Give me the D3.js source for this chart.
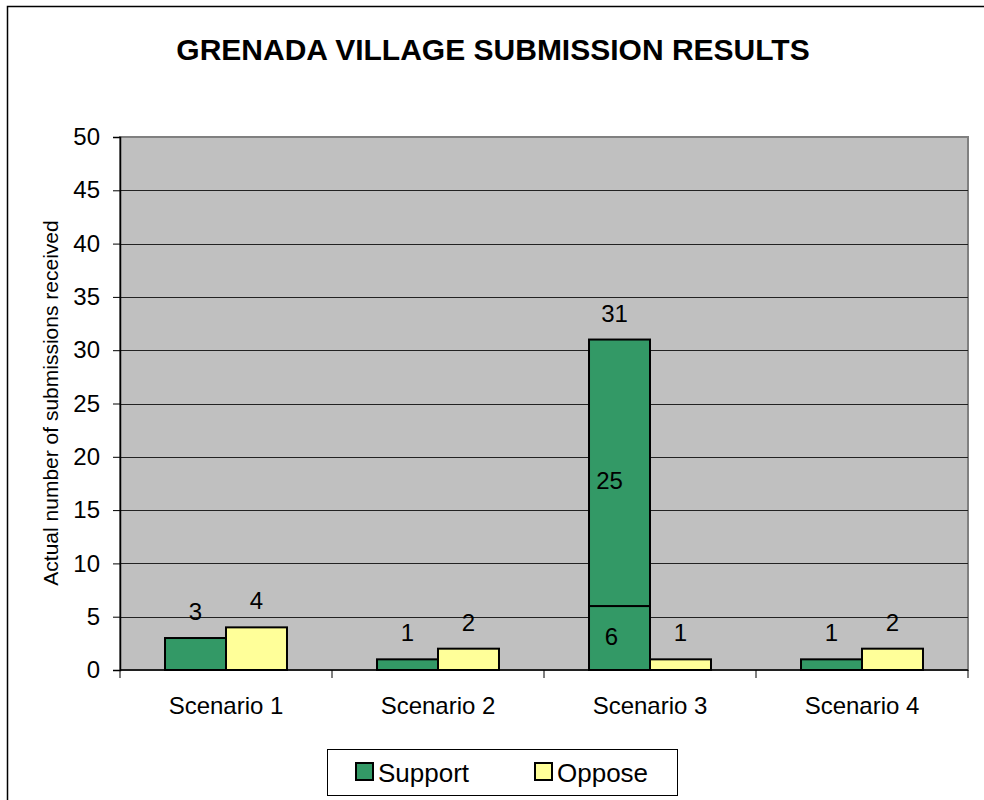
<!DOCTYPE html>
<html>
  <head>
    <title>Grenada Village submission results</title>
    <style>
      body { margin: 0; background: #fff; }
      text { font-family: Arial, "Liberation Sans", sans-serif; fill: #000; }
    </style>
    <script src="https://cdn.jsdelivr.net/npm/d3@7"></script>
  </head>
  <body>
    <div id="chart"></div>
    <script type="text/javascript">
      // data
      var scenarios    = ["Scenario 1", "Scenario 2", "Scenario 3", "Scenario 4"];
      var series       = ["Support", "Oppose"];
      var supportBase  = [3, 1, 6, 1];
      var supportExtra = [0, 0, 25, 0];
      var oppose       = [4, 2, 1, 2];
      var yTicks       = [0, 5, 10, 15, 20, 25, 30, 35, 40, 45, 50];

      var colors = { Support: "#339966", Oppose: "#FFFF99" };

      var width = 984, height = 800;
      var plot = { left: 120, right: 968, top: 137, bottom: 670 };

      var svg = d3.select("#chart").append("svg")
          .attr("width", width)
          .attr("height", height);

      // outer chart frame
      svg.append("rect")
          .attr("x", 7.5).attr("y", 6.5)
          .attr("width", 1000).attr("height", 1000)
          .attr("fill", "none")
          .attr("stroke", "#000")
          .attr("stroke-width", 1.5);

      svg.append("text")
          .attr("x", 493).attr("y", 60)
          .attr("text-anchor", "middle")
          .style("font-size", "30px")
          .style("font-weight", "bold")
          .text("GRENADA VILLAGE SUBMISSION RESULTS");

      var x0 = d3.scaleBand()
          .domain(scenarios)
          .range([plot.left, plot.right])
          .padding(0);

      var x1 = d3.scaleBand()
          .domain(series)
          .range([0, x0.bandwidth()])
          .paddingInner(0)
          .paddingOuter(0.738);

      var y = d3.scaleLinear()
          .domain([0, 50])
          .range([plot.bottom, plot.top]);

      // plot area
      svg.append("rect")
          .attr("x", plot.left).attr("y", plot.top)
          .attr("width", plot.right - plot.left)
          .attr("height", plot.bottom - plot.top)
          .attr("fill", "#C0C0C0")
          .attr("stroke", "#808080")
          .attr("stroke-width", 2);

      // gridlines
      svg.append("g").selectAll("line")
          .data(yTicks.filter(function(t){ return t > 0 && t < 50; }))
          .enter().append("line")
          .attr("x1", plot.left).attr("x2", plot.right)
          .attr("y1", function(d){ return Math.round(y(d)) + 0.5; })
          .attr("y2", function(d){ return Math.round(y(d)) + 0.5; })
          .attr("stroke", "#222")
          .attr("stroke-width", 1);

      // y axis
      var yAxis = svg.append("g")
          .attr("transform", "translate(" + plot.left + ",0)")
          .call(d3.axisLeft(y).tickValues(yTicks).tickSize(7).tickPadding(13));
      yAxis.select(".domain").attr("stroke", "#000").attr("stroke-width", 1.5);
      yAxis.selectAll(".tick line").attr("stroke", "#000");
      yAxis.selectAll(".tick text")
          .style("font-size", "24px")
          .style("font-family", "Arial, 'Liberation Sans', sans-serif")
          .attr("fill", "#000");

      // x axis: ticks at category boundaries
      var xAxisG = svg.append("g");
      xAxisG.append("line")
          .attr("x1", plot.left).attr("x2", plot.right)
          .attr("y1", plot.bottom).attr("y2", plot.bottom)
          .attr("stroke", "#000").attr("stroke-width", 1.5);
      var bounds = scenarios.map(function(s){ return x0(s); }).concat([plot.right]);
      xAxisG.selectAll(".bt")
          .data(bounds)
          .enter().append("line")
          .attr("x1", function(d){ return d; }).attr("x2", function(d){ return d; })
          .attr("y1", plot.bottom).attr("y2", plot.bottom + 8)
          .attr("stroke", "#000");
      xAxisG.selectAll(".cl")
          .data(scenarios)
          .enter().append("text")
          .attr("x", function(d){ return x0(d) + x0.bandwidth() / 2; })
          .attr("y", 714)
          .attr("text-anchor", "middle")
          .style("font-size", "24px")
          .text(function(d){ return d; });

      // bars
      var rows = scenarios.map(function(s, i) {
        return { scenario: s, base: supportBase[i], extra: supportExtra[i], oppose: oppose[i] };
      });

      var groups = svg.append("g").selectAll("g")
          .data(rows)
          .enter().append("g")
          .attr("transform", function(d){ return "translate(" + x0(d.scenario) + ",0)"; });

      function barRect(sel, name, lo, hi) {
        sel.append("rect")
            .attr("x", x1(name))
            .attr("y", function(d){ return y(hi(d)); })
            .attr("width", x1.bandwidth())
            .attr("height", function(d){ return y(lo(d)) - y(hi(d)); })
            .attr("fill", colors[name])
            .attr("stroke", "#000")
            .attr("stroke-width", 2);
      }

      barRect(groups, "Support", function(){ return 0; }, function(d){ return d.base; });
      barRect(groups.filter(function(d){ return d.extra > 0; }), "Support",
              function(d){ return d.base; }, function(d){ return d.base + d.extra; });
      barRect(groups, "Oppose", function(){ return 0; }, function(d){ return d.oppose; });

      // labels on top of bars
      groups.append("text")
          .attr("x", x1("Support") + x1.bandwidth() / 2)
          .attr("y", function(d){ return y(d.base + d.extra) - 18; })
          .attr("dx", function(d){ return d.extra > 0 ? -5 : 0; })
          .attr("text-anchor", "middle")
          .style("font-size", "24px")
          .text(function(d){ return d.base + d.extra; });

      groups.append("text")
          .attr("x", x1("Oppose") + x1.bandwidth() / 2)
          .attr("y", function(d){ return y(d.oppose) - 18; })
          .attr("text-anchor", "middle")
          .style("font-size", "24px")
          .text(function(d){ return d.oppose; });

      // segment labels inside the stacked bar
      var stacked = groups.filter(function(d){ return d.extra > 0; });
      stacked.append("text")
          .attr("x", x1("Support") + x1.bandwidth() / 2 - 8)
          .attr("y", function(d){ return y(d.base / 2) + 7; })
          .attr("text-anchor", "middle")
          .style("font-size", "24px")
          .text(function(d){ return d.base; });
      stacked.append("text")
          .attr("x", x1("Support") + x1.bandwidth() / 2 - 10)
          .attr("y", function(d){ return y(d.base + d.extra / 2) + 16; })
          .attr("text-anchor", "middle")
          .style("font-size", "24px")
          .text(function(d){ return d.extra; });

      // y axis title
      svg.append("text")
          .attr("transform", "translate(58,403) rotate(-90)")
          .attr("text-anchor", "middle")
          .style("font-size", "21px")
          .text("Actual number of submissions received");

      // legend
      var legend = svg.append("g");
      legend.append("rect")
          .attr("x", 327.5).attr("y", 749.5)
          .attr("width", 350).attr("height", 46)
          .attr("fill", "#fff")
          .attr("stroke", "#000")
          .attr("stroke-width", 1);
      var legendX = { Support: 356, Oppose: 535 };
      var items = legend.selectAll(".li")
          .data(series)
          .enter().append("g")
          .attr("transform", function(d){ return "translate(" + legendX[d] + ",763)"; });
      items.append("rect")
          .attr("width", 17).attr("height", 17)
          .attr("fill", function(d){ return colors[d]; })
          .attr("stroke", "#000")
          .attr("stroke-width", 2);
      items.append("text")
          .attr("x", 22).attr("y", 19)
          .style("font-size", "26px")
          .text(function(d){ return d; });
    </script>
  </body>
</html>
